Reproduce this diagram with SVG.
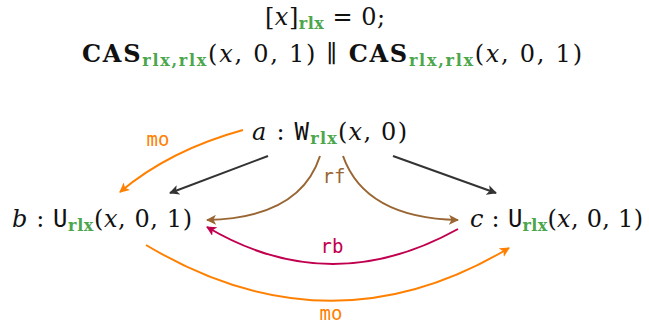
<svg xmlns="http://www.w3.org/2000/svg" width="649" height="326" viewBox="0 0 649 326">
<style>
text{font-family:"DejaVu Serif","Liberation Serif",serif;font-size:24px;fill:#111}
.it{font-style:italic}
.tt{font-family:"DejaVu Sans Mono","Liberation Mono",monospace}
.sub{font-family:"DejaVu Serif",serif;font-weight:bold;font-size:16px;fill:#4ca64c}
.bf{font-weight:bold}
.lbl{font-family:"DejaVu Sans Mono","Liberation Mono",monospace;font-size:19px;text-anchor:middle}
.e{fill:none;stroke-width:2}
</style>
<defs>
<marker id="mO" viewBox="0 0 10 10" refX="9" refY="5" markerWidth="10" markerHeight="10" markerUnits="userSpaceOnUse" orient="auto"><path d="M0,0 L10,5 L0,10 L2.5,5 z" fill="#ff8000"/></marker>
<marker id="mK" viewBox="0 0 10 10" refX="9" refY="5" markerWidth="10" markerHeight="10" markerUnits="userSpaceOnUse" orient="auto"><path d="M0,0 L10,5 L0,10 L2.5,5 z" fill="#333"/></marker>
<marker id="mB" viewBox="0 0 10 10" refX="9" refY="5" markerWidth="10" markerHeight="10" markerUnits="userSpaceOnUse" orient="auto"><path d="M0,0 L10,5 L0,10 L2.5,5 z" fill="#996633"/></marker>
<marker id="mR" viewBox="0 0 10 10" refX="9" refY="5" markerWidth="10" markerHeight="10" markerUnits="userSpaceOnUse" orient="auto"><path d="M0,0 L10,5 L0,10 L2.5,5 z" fill="#c0004f"/></marker>
</defs>
<g id="title">
<text x="325" y="25" text-anchor="middle" textLength="120" lengthAdjust="spacing">[<tspan class="it">x</tspan>]<tspan class="sub" dy="4">rlx</tspan><tspan dy="-4"> = 0;</tspan></text>
<text x="332" y="62" text-anchor="middle" textLength="500" lengthAdjust="spacing"><tspan class="bf">CAS</tspan><tspan class="sub" dy="4">rlx,rlx</tspan><tspan dy="-4">(</tspan><tspan class="it">x</tspan>, 0, 1) ∥ <tspan class="bf">CAS</tspan><tspan class="sub" dy="4">rlx,rlx</tspan><tspan dy="-4">(</tspan><tspan class="it">x</tspan>, 0, 1)</text>
</g>
<g id="connectors">
<path class="e" stroke="#ff8000" d="M243,130 Q170,150 120,192" marker-end="url(#mO)"/>
<path class="e" stroke="#333" d="M268,156 L170,193" marker-end="url(#mK)"/>
<path class="e" stroke="#333" d="M393,156 L496,193" marker-end="url(#mK)"/>
<path class="e" stroke="#996633" d="M320,156 Q300,218 207,220" marker-end="url(#mB)"/>
<path class="e" stroke="#996633" d="M343,156 Q365,218 458,220" marker-end="url(#mB)"/>
<path class="e" stroke="#c0004f" d="M458,229 Q330,300 207,227" marker-end="url(#mR)"/>
<path class="e" stroke="#ff8000" d="M146,245 Q330,355 509,248" marker-end="url(#mO)"/>
<text class="lbl" x="158" y="146" style="fill:#ff8000">mo</text>
<text class="lbl" x="334" y="183" style="fill:#996633">rf</text>
<text class="lbl" x="332" y="253" style="fill:#c0004f">rb</text>
<text class="lbl" x="331" y="320" style="fill:#ff8000">mo</text>
</g>
<g id="a"><text x="252" y="140" textLength="155" lengthAdjust="spacing"><tspan class="it">a</tspan> : <tspan class="tt">W</tspan><tspan class="sub" dy="4">rlx</tspan><tspan dy="-4">(</tspan><tspan class="it">x</tspan>, 0)</text></g>
<g id="b"><text x="12" y="227" textLength="180" lengthAdjust="spacing"><tspan class="it">b</tspan> : <tspan class="tt">U</tspan><tspan class="sub" dy="4">rlx</tspan><tspan dy="-4">(</tspan><tspan class="it">x</tspan>, 0, 1)</text></g>
<g id="c"><text x="470" y="227" textLength="173" lengthAdjust="spacing"><tspan class="it">c</tspan> : <tspan class="tt">U</tspan><tspan class="sub" dy="4">rlx</tspan><tspan dy="-4">(</tspan><tspan class="it">x</tspan>, 0, 1)</text></g>
</svg>
